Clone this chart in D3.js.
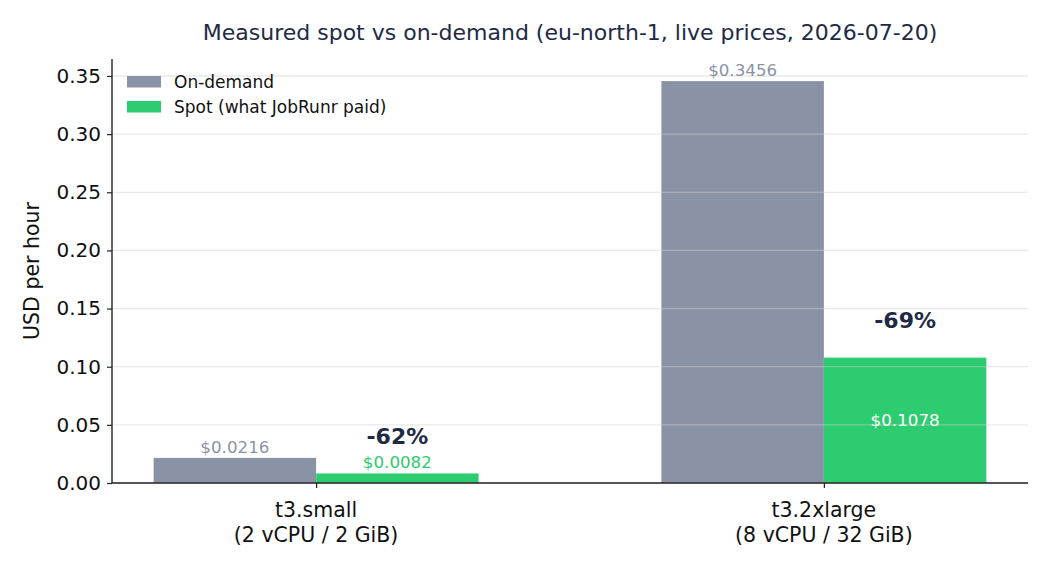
<!DOCTYPE html>
<html>
<head>
<meta charset="utf-8">
<script src="https://cdn.jsdelivr.net/npm/d3@7"></script>
<style>
  body { margin: 0; background: #fff; }
  svg { font-family: "DejaVu Sans", sans-serif; }
</style>
</head>
<body>
<svg id="chart"></svg>
<script>
// instance types and measured prices (USD per hour)
const instances = ["t3.small", "t3.2xlarge"];
const instanceSpecs = ["(2 vCPU / 2 GiB)", "(8 vCPU / 32 GiB)"];
const onDemand = [0.0216, 0.3456];
const spot = [0.0082, 0.1078];
const savings = ["-62%", "-69%"];
const yTicks = [0, 0.05, 0.10, 0.15, 0.20, 0.25, 0.30, 0.35];
const seriesNames = ["On-demand", "Spot (what JobRunr paid)"];

const W = 1050, H = 570;
const margin = { top: 59, right: 22, bottom: 87, left: 112 };
const width = W - margin.left - margin.right;
const height = H - margin.top - margin.bottom;

const grey = "#8a93a6", green = "#2ecc71", navy = "#1e2a44";

const root = d3.select("#chart").attr("width", W).attr("height", H);
const svg = root.append("g").attr("transform", `translate(${margin.left},${margin.top})`);

// x in "category units" like matplotlib: bars of width 0.32 either side of the centre
const barW = 0.32;
const x = d3.scaleLinear().domain([-barW - 0.082, 1 + barW + 0.082]).range([0, width]);
const y = d3.scaleLinear().domain([0, d3.max(onDemand) * 1.055]).range([height, 0]);

const rows = instances.map((name, i) => ({
    name, i, spec: instanceSpecs[i], od: onDemand[i], sp: spot[i], cut: savings[i]
}));

// bars
svg.selectAll(".od-bar").data(rows).enter().append("rect")
    .attr("class", "od-bar")
    .attr("x", d => x(d.i - barW))
    .attr("width", x(barW) - x(0))
    .attr("y", d => y(d.od))
    .attr("height", d => y(0) - y(d.od))
    .attr("fill", grey);

svg.selectAll(".sp-bar").data(rows).enter().append("rect")
    .attr("class", "sp-bar")
    .attr("x", d => x(d.i))
    .attr("width", x(barW) - x(0))
    .attr("y", d => y(d.sp))
    .attr("height", d => y(0) - y(d.sp))
    .attr("fill", green);

// grid on top, faint
svg.selectAll(".grid").data(yTicks).enter().append("line")
    .attr("class", "grid")
    .attr("x1", 0).attr("x2", width)
    .attr("y1", d => y(d)).attr("y2", d => y(d))
    .attr("stroke", "#d0d0d0")
    .attr("stroke-opacity", 0.45)
    .attr("stroke-width", 1.3);

// axes
const yAxis = svg.append("g")
    .call(d3.axisLeft(y).tickValues(yTicks).tickFormat(d3.format(".2f")).tickSize(5).tickPadding(6));
const xAxis = svg.append("g")
    .attr("transform", `translate(0,${height})`)
    .call(d3.axisBottom(x).tickValues([0, 1]).tickFormat("").tickSize(5));

[yAxis, xAxis].forEach(a => {
    a.select(".domain").attr("stroke", "#222").attr("stroke-width", 1.4);
    a.selectAll(".tick line").attr("stroke", "#222").attr("stroke-width", 1.2);
});
yAxis.select(".domain").attr("d", `M0,0V${height}`);
xAxis.select(".domain").attr("d", `M0,0H${width}`);
yAxis.selectAll(".tick text")
    .attr("font-size", 20).attr("fill", "#111")
    .attr("font-family", "DejaVu Sans");

// two line category labels
const xl = svg.selectAll(".xlab").data(rows).enter().append("text")
    .attr("class", "xlab")
    .attr("x", d => x(d.i))
    .attr("y", height + 34)
    .attr("text-anchor", "middle")
    .attr("font-size", 20.5)
    .attr("fill", "#111");
xl.append("tspan").attr("x", d => x(d.i)).text(d => d.name);
xl.append("tspan").attr("x", d => x(d.i)).attr("dy", 24.5).text(d => d.spec);

// value labels
svg.selectAll(".od-lab").data(rows).enter().append("text")
    .attr("x", d => x(d.i - barW / 2))
    .attr("y", d => y(d.od) - 5)
    .attr("text-anchor", "middle")
    .attr("font-size", 16.7)
    .attr("fill", grey)
    .text(d => "$" + d.od.toFixed(4));

svg.selectAll(".sp-lab").data(rows).enter().append("text")
    .attr("x", d => x(d.i + barW / 2))
    .attr("y", d => d.sp > 0.05 ? y(d.sp / 2) + 6 : y(d.sp) - 5)
    .attr("text-anchor", "middle")
    .attr("font-size", 16.7)
    .attr("fill", d => d.sp > 0.05 ? "#fff" : green)
    .text(d => "$" + d.sp.toFixed(4));

svg.selectAll(".cut-lab").data(rows).enter().append("text")
    .attr("x", d => x(d.i + barW / 2))
    .attr("y", d => y(d.sp + 0.0255))
    .attr("text-anchor", "middle")
    .attr("font-size", 22)
    .attr("font-weight", "bold")
    .attr("fill", navy)
    .text(d => d.cut);

// y label
root.append("text")
    .attr("transform", `translate(39,${margin.top + height / 2}) rotate(-90)`)
    .attr("text-anchor", "middle")
    .attr("font-size", 20.5)
    .attr("fill", "#111")
    .text("USD per hour");

// title
root.append("text")
    .attr("x", margin.left + width / 2)
    .attr("y", 40)
    .attr("text-anchor", "middle")
    .attr("font-size", 22)
    .attr("fill", navy)
    .text("Measured spot vs on-demand (eu-north-1, live prices, 2026-07-20)");

// legend
const legend = svg.append("g").attr("transform", "translate(15,17)");
const lg = legend.selectAll("g").data(seriesNames).enter().append("g")
    .attr("transform", (d, i) => `translate(0,${i * 25})`);
lg.append("rect")
    .attr("width", 34).attr("height", 11.5)
    .attr("fill", (d, i) => i === 0 ? grey : green);
lg.append("text")
    .attr("x", 47).attr("y", 11.5)
    .attr("font-size", 17)
    .attr("fill", "#111")
    .text(d => d);
</script>
</body>
</html>
